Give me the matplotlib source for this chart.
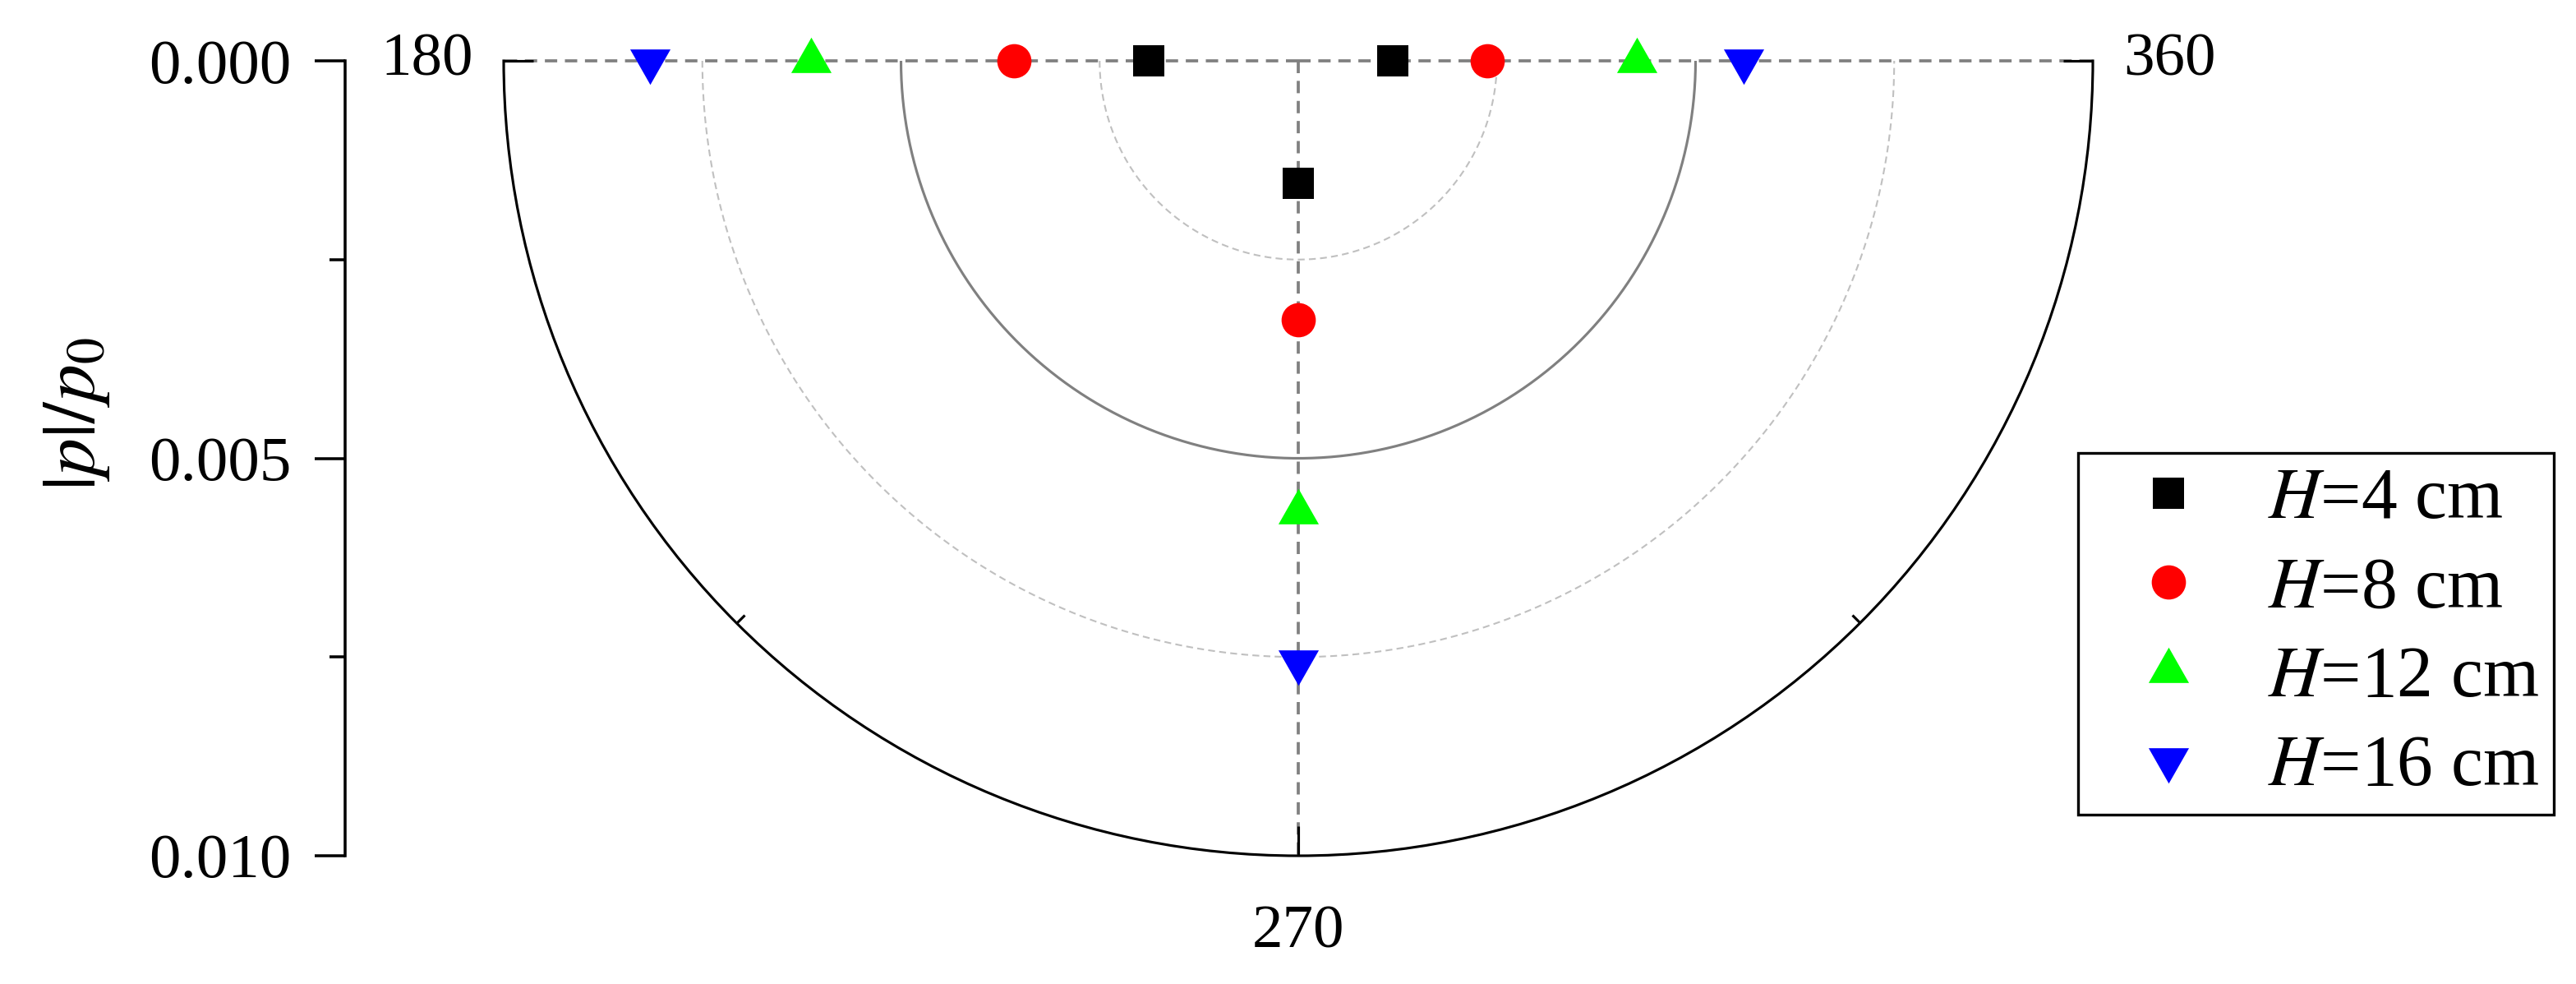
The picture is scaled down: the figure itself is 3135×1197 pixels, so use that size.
import numpy as np
import matplotlib
matplotlib.use("Agg")
import matplotlib.pyplot as plt
from matplotlib import ticker

plt.rcParams['font.family'] = ['Liberation Serif', 'DejaVu Serif']
plt.rcParams['mathtext.fontset'] = 'stix'

# angle in degrees and |p|/p0, one list per water depth
theta_deg = [180, 270, 360]
p_h4 = [0.00188, 0.00154, 0.00119]
p_h8 = [0.00358, 0.00326, 0.00238]
p_h12 = [0.00613, 0.00568, 0.00426]
p_h16 = [0.00816, 0.00756, 0.00561]
labels = ['$H$=4 cm', '$H$=8 cm', '$H$=12 cm', '$H$=16 cm']

r_ticks = [0.0, 0.005, 0.010]
r_minor = [0.0025, 0.0075]
theta_ticks = [180, 270, 360]
theta_minor = [225, 315]

W, H = 3135, 1197
fig = plt.figure(figsize=(W / 300, H / 300), dpi=300)

# centre of the half circle and its radius, in pixels.
# polar axes keep a square box and put the half disc in its middle half
cx, cy, R = 1580, 74, 967
ax = fig.add_axes([(cx - R) / W, (H - cy - 1.5 * R) / H, 2 * R / W, 2 * R / H], projection='polar')
ax.set_thetamin(180)
ax.set_thetamax(360)
ax.set_rticks([])
ax.set_rlim(0, 0.01)
# polar draw() resets spine visibility, so blank them by colour instead
for s in ['start', 'end', 'inner']:
    ax.spines[s].set_color('none')
ax.spines['polar'].set_linewidth(0.75)

# radial grid circles
th = np.linspace(np.pi, 2 * np.pi, 400)
ax.plot(th, np.full_like(th, r_minor[0]), color='#c0c0c0', lw=0.5, ls=(0, (4, 2.5)), zorder=1)
ax.plot(th, np.full_like(th, r_ticks[1]), color='#808080', lw=0.75, zorder=1)
ax.plot(th, np.full_like(th, r_minor[1]), color='#c0c0c0', lw=0.5, ls=(0, (4, 2.5)), zorder=1)

# angular grid / ticks (tick2 sits on the outer arc in polar axes)
ax.set_thetagrids(theta_ticks, labels=[str(t) for t in theta_ticks])
ax.xaxis.grid(True, color='#808080', lw=0.9, ls=(0, (4, 2.5)))
for gl in ax.xaxis.get_gridlines():
    gl.set_clip_on(False)
ax.xaxis.set_minor_locator(ticker.FixedLocator(np.deg2rad(theta_minor)))
ax.tick_params(axis='x', which='both', bottom=False, top=True)
ax.tick_params(axis='x', which='major', direction='in', length=8.6, width=0.75, pad=15.5, labelsize=18)
ax.tick_params(axis='x', which='minor', direction='in', length=3.5, width=0.75)

# triangles centred on their centroid, like the original
tri_up = [(0, 28.7), (-24.5, -14.3), (24.5, -14.3), (0, 28.7)]
tri_dn = [(0, -28.7), (-24.5, 14.3), (24.5, 14.3), (0, -28.7)]

th_data = np.deg2rad(theta_deg)
ax.plot(th_data, p_h4, ls='none', marker='s', ms=8.9, color='black', mew=0, label=labels[0], zorder=5, clip_on=False)
ax.plot(th_data, p_h8, ls='none', marker='o', ms=10, color='red', mew=0, label=labels[1], zorder=5, clip_on=False)
ax.plot(th_data, p_h12, ls='none', marker=tri_up, ms=13.8, color='#00ff00', mew=0, label=labels[2], zorder=5, clip_on=False)
ax.plot(th_data, p_h16, ls='none', marker=tri_dn, ms=13.8, color='blue', mew=0, label=labels[3], zorder=5, clip_on=False)

leg = ax.legend(loc='upper left', bbox_to_anchor=(2529 / W, 1 - 551 / H),
                bbox_transform=fig.transFigure, borderaxespad=0, fancybox=False,
                edgecolor='black', framealpha=1, fontsize=21, borderpad=0.2,
                handlelength=2.11, handletextpad=0.33, labelspacing=0.31, numpoints=1)
leg.get_frame().set_linewidth(0.8)

# separate linear axis on the left for |p|/p0
ax2 = fig.add_axes([420 / W, (H - cy - R) / H, 0.0001, R / H])
ax2.set_ylim(r_ticks[-1], r_ticks[0])
ax2.set_xticks([])
for s in ['top', 'right', 'bottom']:
    ax2.spines[s].set_visible(False)
ax2.spines['left'].set_linewidth(0.85)
ax2.patch.set_visible(False)
ax2.set_yticks(r_ticks)
ax2.set_yticklabels(['%.3f' % v for v in r_ticks])
ax2.yaxis.set_minor_locator(ticker.FixedLocator(r_minor))
ax2.tick_params(axis='y', which='major', direction='out', length=8.9, width=0.85, pad=6.7, labelsize=18.5)
ax2.tick_params(axis='y', which='minor', direction='out', length=4.6, width=0.85)
ax2.set_ylabel(r'$|p|/p_0$', fontsize=22)
ax2.yaxis.set_label_coords(136 / W, 1 - 504 / H, transform=fig.transFigure)

fig.savefig('out.png', dpi=300)
